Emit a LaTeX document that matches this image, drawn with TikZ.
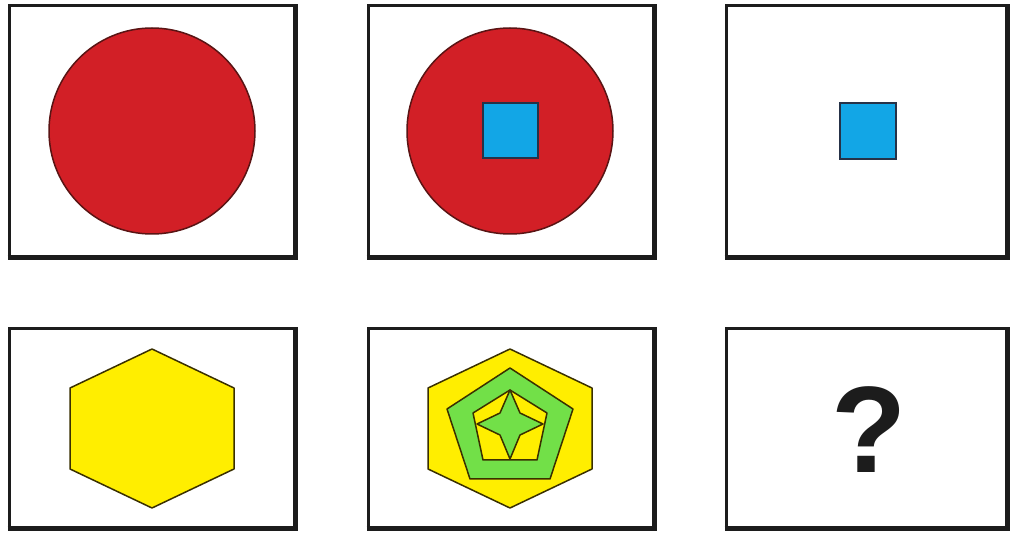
\documentclass[tikz,border=0pt]{standalone}
\usepackage{fontspec}
\setmainfont{Liberation Sans}
\definecolor{boxline}{HTML}{1C1C1C}
\definecolor{cred}{HTML}{D21F26}
\definecolor{credline}{HTML}{5A1414}
\definecolor{cblue}{HTML}{12A6E6}
\definecolor{cblueline}{HTML}{263248}
\definecolor{cyellow}{HTML}{FFEE00}
\definecolor{cgreen}{HTML}{72E048}
\definecolor{shapeline}{HTML}{3A3000}
\tikzset{
  frame/.style={draw=boxline, line width=3pt, fill=white},
  frameshadow/.style={draw=boxline, line width=5pt},
  redcircle/.style={fill=cred, draw=credline, line width=1.5pt},
  bluesq/.style={fill=cblue, draw=cblueline, line width=2pt},
  yshape/.style={fill=cyellow, draw=shapeline, line width=1.5pt, line join=round},
  gshape/.style={fill=cgreen, draw=shapeline, line width=1.5pt, line join=round},
}
\begin{document}
\begin{tikzpicture}[x=1pt,y=-1pt]
\useasboundingbox (0,0) rectangle (1010,534);
\fill[white] (0,0) rectangle (1010,534);
% frames
\foreach \n/\xa/\xb/\ya/\yb in {b1/9/295/6/258, b2/368/654/6/258, b3/726/1007/6/258,
                                 b4/9/295/329/528, b5/368/654/329/528, b6/726/1007/329/528}{
  \draw[frame] (\xa,\ya) rectangle (\xb,\yb);
  \draw[frameshadow] (\xa-1.5,\yb) -- (\xb,\yb) -- (\xb,\ya-1.5);
}
% row 1
\path[redcircle] (152,131) circle[radius=103];
\path[redcircle] (510,131) circle[radius=103];
\path[bluesq] (483,103) rectangle (538,158);
\path[bluesq] (840,103) rectangle (896,159);
% row 2
\path[yshape] (152,349) -- (234,388) -- (234,469) -- (152,508) -- (70,469) -- (70,388) -- cycle;
\path[yshape] (510,349) -- (592,388) -- (592,469) -- (510,508) -- (428,469) -- (428,388) -- cycle;
\path[gshape] (510,368) -- (573,409) -- (550,479) -- (470,479) -- (447,409) -- cycle;
\path[yshape] (510,390) -- (547,413) -- (537,460) -- (483,460) -- (473,413) -- cycle;
\path[gshape] (510,390) -- (520,413) -- (543,424) -- (520,435) -- (510,459) -- (500,435) -- (477,424) -- (500,413) -- cycle;
% question mark
\node[inner sep=0pt, anchor=base, text=boxline] (q) at (869,473)
  {\fontsize{123}{123}\selectfont\bfseries ?};
\end{tikzpicture}
\end{document}
